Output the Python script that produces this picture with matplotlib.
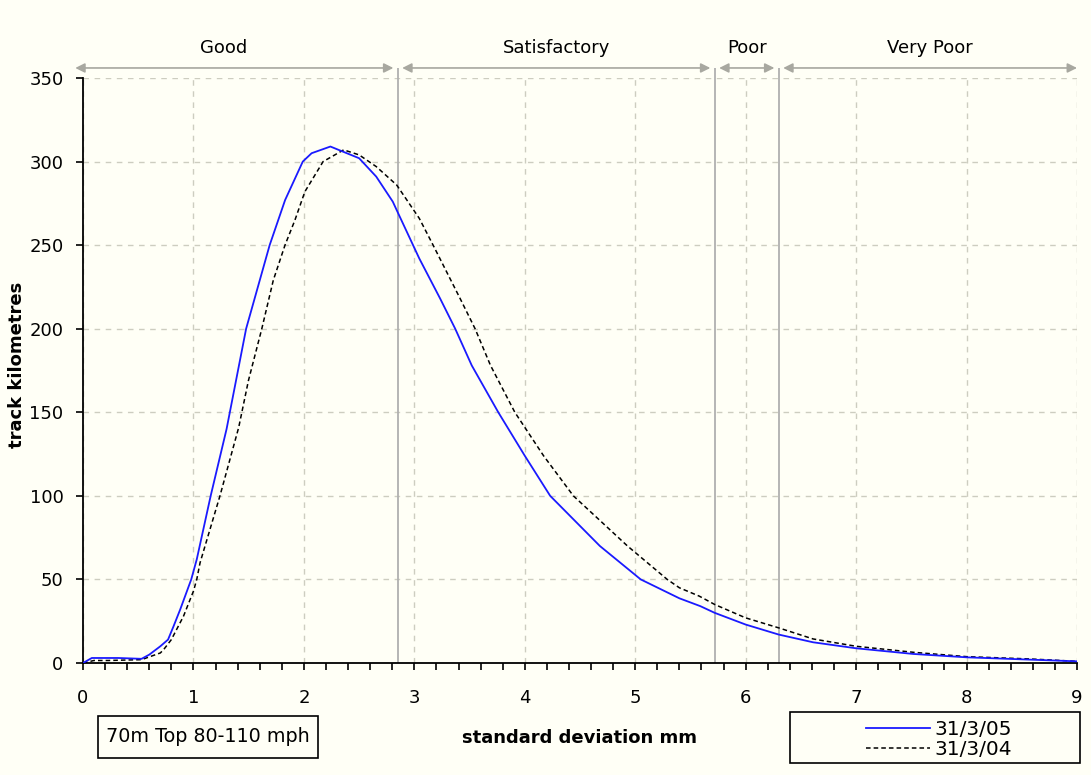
import matplotlib
matplotlib.use('Agg')
import matplotlib.pyplot as plt
from matplotlib.patches import Rectangle
from matplotlib.ticker import MultipleLocator

# track quality curves, standard deviation (mm) vs track kilometres
sd_05 = [0, 0.08, 0.32, 0.53, 0.6, 0.70, 0.77, 0.82, 0.88, 0.98, 1.03, 1.156, 1.30,
         1.477, 1.69, 1.83, 1.99, 2.07, 2.24, 2.50, 2.655, 2.805, 2.84, 3.045, 3.234,
         3.37, 3.52, 3.76, 4.0, 4.23, 4.68, 5.05, 5.40, 5.59, 5.72, 6.0, 6.3, 6.61,
         7.0, 7.52, 8.0, 8.58, 9.0]
km_05 = [0, 3, 3, 2.5, 5, 10, 14, 22, 32, 50, 62, 100, 140,
         200, 250, 277, 300, 305, 309, 302, 291, 276, 271, 242, 218,
         200, 178, 150, 124, 100, 70, 50, 38.7, 34, 30, 23, 17, 12.4,
         8.8, 5.4, 3.4, 2, 1]

sd_04 = [0, 0.1, 0.23, 0.53, 0.70, 0.73, 0.80, 0.91, 1.0, 1.03, 1.06, 1.24, 1.41,
         1.498, 1.619, 1.723, 1.829, 1.919, 2.009, 2.174, 2.36, 2.50, 2.655, 2.84,
         3.045, 3.17, 3.415, 3.55, 3.69, 3.91, 4.17, 4.44, 4.93, 5.29, 5.40, 5.58,
         5.72, 6.0, 6.3, 6.61, 7.0, 7.52, 8.0, 8.58, 9.0]
km_04 = [0, 1.5, 1.5, 2, 6, 8, 14, 28, 43, 50, 60, 100, 141,
         169, 200, 229, 250, 265, 282, 300, 307, 304, 297, 286,
         266, 250, 218, 200, 178, 150, 124, 100, 70, 50, 45, 40,
         35, 27, 21, 14.4, 10, 6.4, 3.8, 2.4, 1]

# quality bands
band_edges = [0, 2.85, 5.72, 6.3, 9]
band_names = ['Good', 'Satisfactory', 'Poor', 'Very Poor']

plt.rcParams['font.family'] = 'DejaVu Sans'
fs = 13

fig = plt.figure(figsize=(10.91, 7.75), dpi=100)
fig.patch.set_facecolor('#fffff6')
ax = fig.add_axes([83/1091, 1 - 663/775, 994/1091, 585/775])
ax.set_facecolor('#fffff6')

ax.plot(sd_05, km_05, color='#1a1aff', lw=1.3, label='31/3/05', zorder=4)
ax.plot(sd_04, km_04, color='black', lw=1.1, ls=(0, (3, 2)), label='31/3/04', zorder=3)

ax.set_xlim(0, 9)
ax.set_ylim(0, 350)
ax.xaxis.set_major_locator(MultipleLocator(1))
ax.xaxis.set_minor_locator(MultipleLocator(0.2))
ax.yaxis.set_major_locator(MultipleLocator(50))
ax.grid(True, which='major', color='#cdcdc0', ls=(0, (4, 4)), lw=1.0)
ax.set_axisbelow(True)

for s in ['top', 'right']:
    ax.spines[s].set_visible(False)
for s in ['left', 'bottom']:
    ax.spines[s].set_linewidth(1.3)
ax.tick_params(axis='x', which='both', direction='out', length=5, width=1.2,
               pad=13.5, labelsize=fs)
ax.tick_params(axis='y', direction='out', length=5, width=1.2, pad=9, labelsize=fs)

ax.set_xlabel('standard deviation mm', fontsize=fs, fontweight='bold')
ax.xaxis.set_label_coords(0.5, -0.128)
ax.xaxis.label.set_va('center')
ax.set_ylabel('track kilometres', fontsize=fs, fontweight='bold')
ax.yaxis.set_label_coords(-0.066, 0.51)
ax.yaxis.label.set_va('center')

# band boundaries and arrows along the top
arrow_y = 356
ax.vlines(band_edges[1:-1], 0, arrow_y, color='#b0b0b0', lw=1.3, clip_on=False, zorder=2)
gap = 0.04
for i, name in enumerate(band_names):
    lo = band_edges[i] + (gap if i > 0 else -0.07)
    hi = band_edges[i + 1] - (gap if i < len(band_names) - 1 else 0)
    ax.annotate('', xy=(hi, arrow_y), xytext=(lo, arrow_y),
                arrowprops=dict(arrowstyle='<|-|>', color='#a8a8a0', lw=1.2,
                                mutation_scale=14, shrinkA=0, shrinkB=0),
                annotation_clip=False)
    xc = (lo + hi) / 2 - (0.1 if i == 0 else 0)
    ax.text(xc, 368, name, ha='center', va='center', fontsize=fs)

# caption box and legend below the axes
fig.text(208/1091, 1 - 737/775, '70m Top 80-110 mph', ha='center', va='center',
         fontsize=13.8)
fig.patches.append(Rectangle((98/1091, 1 - 758/775), 220/1091, 42/775,
                             transform=fig.transFigure, fill=False,
                             ec='black', lw=1.2))
fig.patches.append(Rectangle((790/1091, 1 - 763/775), 290/1091, 51/775,
                             transform=fig.transFigure, fill=False,
                             ec='black', lw=1.2))
fig.legend(loc='center left', bbox_to_anchor=(866/1091, 1 - 739.5/775), frameon=False,
           fontsize=14.5, handlelength=3.2, handletextpad=0.2, labelspacing=0.05,
           borderpad=0, borderaxespad=0)

fig.savefig('out.png', dpi=100, facecolor=fig.get_facecolor())
